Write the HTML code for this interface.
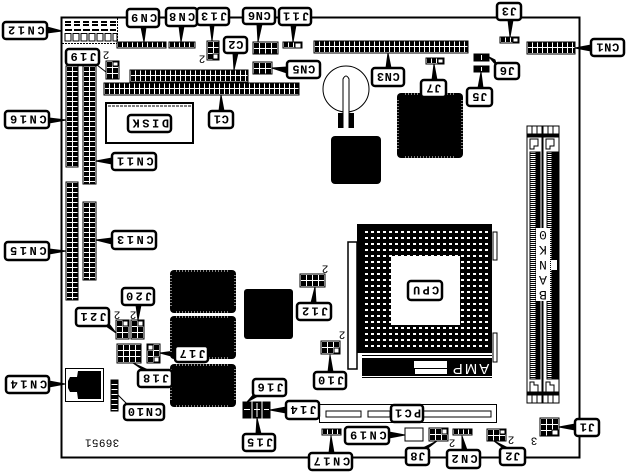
<!DOCTYPE html>
<html><head><meta charset="utf-8"><style>
html,body{margin:0;padding:0;background:#fff}
svg{display:block}
.c{shape-rendering:crispEdges}
.c rect{stroke:#000;stroke-width:1}
.l rect{fill:#fff;stroke:#000;stroke-width:2.500}
.l text{font:bold 12px "Liberation Mono",monospace;text-anchor:middle;fill:#000}
.s text{font:11px "Liberation Mono",monospace;text-anchor:middle;fill:#000}
</style></head><body>
<svg width="628" height="474" viewBox="0 0 628 474" xmlns="http://www.w3.org/2000/svg">
<defs>
<pattern id="v" width="6" height="5" patternUnits="userSpaceOnUse"><rect width="6" height="5" fill="#fff"/><rect x="1" y="1" width="5" height="4" fill="#000"/></pattern>
<pattern id="h" width="5" height="6" patternUnits="userSpaceOnUse"><rect width="5" height="6" fill="#fff"/><rect x="1" y="0" width="4" height="5" fill="#000"/></pattern>
<pattern id="g" width="6" height="6" patternUnits="userSpaceOnUse"><rect width="6" height="6" fill="#fff"/><rect x="1" y="1" width="5" height="5" fill="#000"/></pattern>
<pattern id="b" width="7" height="5" patternUnits="userSpaceOnUse"><rect width="7" height="5" fill="#000"/><rect y="4" width="7" height="1" fill="#fff"/></pattern>
<pattern id="pin" width="6" height="6" patternUnits="userSpaceOnUse"><rect x="2" y="2" width="3" height="2" fill="#fff" shape-rendering="crispEdges"/></pattern>
<pattern id="comb" width="6" height="2" patternUnits="userSpaceOnUse"><rect width="6" height="1" fill="#fff"/><rect y="1" width="6" height="1" fill="#000"/></pattern>
</defs>

<!-- board -->
<rect x="61.500" y="17.500" width="518" height="440" fill="#fff" stroke="#000" stroke-width="2"/>

<!-- CN12 block -->
<g class="c">
<path d="M62 43.500H118M117.500 18V43" stroke="#000" fill="none" stroke-width="1" stroke-dasharray="2 1"/>
<path d="M65 22H116M65 25H116" stroke="#000" stroke-width="2" stroke-dasharray="6 3"/>
<path d="M65 30H116" stroke="#000" stroke-width="2" stroke-dasharray="7 2"/>
<path d="M65 33.500H71V41H65ZM73 33.500H79V41H73ZM81 33.500H87V41H81ZM89 33.500H95V41H89ZM97 33.500H103V41H97ZM105 33.500H111V41H105ZM113 33.500H117V41H113Z" fill="#fff" stroke="#000"/>
</g>

<!-- wedges -->
<g fill="#000" stroke="#000" stroke-width="1" stroke-linejoin="round">
<polygon points="47,27 47,33 62,31"/><polygon points="141,27 146,27 144,42"/><polygon points="179,26 184,26 181,42"/>
<polygon points="210,25 214,25 212,41"/><polygon points="291,25 296,25 293,42"/><polygon points="257,24 262,24 258,42"/>
<polygon points="233,53 238,53 234,70"/><polygon points="287,67 287,73 272,68"/><polygon points="219,111 224,111 221,95"/>
<polygon points="49,118 49,123 66,120"/><polygon points="112,158 112,164 96,161"/><polygon points="112,238 112,244 96,240"/>
<polygon points="49,249 49,254 66,251"/><polygon points="93,62 97,65 106,72"/><polygon points="136,305 141,305 138,320"/>
<polygon points="103,324 107,321 116,333"/><polygon points="175,351 175,357 160,353"/><polygon points="143,370 148,370 133,363"/>
<polygon points="49,381 49,387 65,384"/><polygon points="125,402 129,406 118,395"/><polygon points="254,394 258,396 247,402"/>
<polygon points="256,434 261,434 257,418"/><polygon points="286,407 286,413 270,410"/><polygon points="329,453 334,453 331,436"/>
<polygon points="311,303 316,303 315,287"/><polygon points="328,372 333,372 330,355"/><polygon points="389,432 389,438 405,435"/>
<polygon points="423,448 428,448 437,441"/><polygon points="462,450 467,450 462,436"/><polygon points="503,448 508,448 494,441"/>
<polygon points="575,424 575,430 559,427"/><polygon points="508,20 513,20 510,37"/><polygon points="591,45 591,51 575,48"/>
<polygon points="386,68 391,68 388,53"/><polygon points="432,80 437,80 434,64"/><polygon points="495,60 497,66 489,57"/>
<polygon points="478,88 483,88 481,72"/>
</g>

<!-- connectors -->
<g class="c">
<rect transform="translate(117,42)" width="49" height="6" fill="url(#h)"/>
<rect transform="translate(169,42)" width="26" height="6" fill="url(#h)"/>
<rect transform="translate(207,41)" width="12" height="19" fill="url(#g)"/>
<rect transform="translate(253,42)" width="25" height="12" fill="url(#g)"/>
<rect transform="translate(283,42)" width="19" height="6" fill="url(#h)"/>
<rect transform="translate(106,61)" width="13" height="18" fill="url(#g)"/>
<rect transform="translate(130,70)" width="118" height="12" fill="url(#h)"/>
<rect transform="translate(104,83)" width="195" height="12" fill="url(#h)"/>
<rect transform="translate(253,62)" width="19" height="12" fill="url(#g)"/>
<rect transform="translate(66,66)" width="12" height="101" fill="url(#v)"/>
<rect transform="translate(83,66)" width="13" height="118" fill="url(#v)"/>
<rect transform="translate(66,182)" width="12" height="118" fill="url(#v)"/>
<rect transform="translate(83,202)" width="13" height="78" fill="url(#v)"/>
<rect transform="translate(116,320)" width="13" height="19" fill="url(#g)"/>
<rect transform="translate(131,320)" width="13" height="19" fill="url(#g)"/>
<rect transform="translate(117,344)" width="24" height="19" fill="url(#g)"/>
<rect transform="translate(147,344)" width="13" height="19" fill="url(#g)"/>
<rect transform="translate(111,380)" width="7" height="31" fill="url(#b)"/>
<rect x="243" y="402" width="8" height="16" fill="#000"/><rect x="253" y="402" width="8" height="16" fill="#000"/><rect x="263" y="402" width="7" height="16" fill="#000"/>
<path d="M244 409.500H250M254 409.500H260M264 409.500H269M257 403V417" stroke="#fff"/>
<rect transform="translate(300,274)" width="25" height="13" fill="url(#g)"/>
<rect transform="translate(321,341)" width="19" height="13" fill="url(#g)"/>
<rect transform="translate(322,429)" width="19" height="6" fill="url(#h)"/>
<rect x="405" y="428" width="18" height="13" fill="#fff"/>
<rect transform="translate(429,428)" width="19" height="13" fill="url(#g)"/>
<rect transform="translate(453,429)" width="19" height="6" fill="url(#h)"/>
<rect transform="translate(487,429)" width="19" height="12" fill="url(#g)"/>
<rect transform="translate(540,418)" width="19" height="18" fill="url(#g)"/>
<rect transform="translate(500,37)" width="19" height="6" fill="url(#h)"/>
<rect transform="translate(527,42)" width="48" height="12" fill="url(#h)"/>
<rect transform="translate(314,41)" width="154" height="12" fill="url(#h)"/>
<rect transform="translate(426,58)" width="18" height="6" fill="url(#h)"/>
<rect x="474" y="54" width="15" height="7" fill="#000"/><rect x="474" y="66" width="15" height="6" fill="#000"/>
<path d="M481.500 55V60M481.500 67V71" stroke="#fff"/>
<!-- pin-1 markers -->
<g fill="#fff">
<rect x="113" y="62" width="5" height="4"/><rect x="213" y="54" width="5" height="5"/><rect x="295" y="43" width="6" height="5"/>
<rect x="123" y="321" width="5" height="5"/><rect x="138" y="321" width="5" height="5"/><rect x="148" y="345" width="5" height="5"/><rect x="154" y="357" width="5" height="5"/>
<rect x="334" y="348" width="5" height="5"/><rect x="442" y="429" width="5" height="5"/><rect x="500" y="430" width="5" height="4"/><rect x="552" y="430" width="6" height="5"/>
<rect x="513" y="38" width="5" height="4"/><rect x="438" y="59" width="5" height="4"/>
</g>
</g>

<!-- disk -->
<rect x="106" y="103" width="87" height="40" fill="#fff" stroke="#000" stroke-width="2"/>
<path d="M108 106H191" stroke="#000" stroke-dasharray="3 1" stroke-width="1"/>

<!-- jack -->
<rect x="65.500" y="368.500" width="38" height="33" fill="#fff" stroke="#000"/>
<polygon points="78,371 101,371 101,399 78,399 77,392 70,392 68,388 68,381 70,377 77,377" fill="#000"/>

<!-- chips -->
<g fill="#000">
<rect x="170" y="270" width="66" height="43" rx="4"/><rect x="170" y="316" width="66" height="43" rx="4"/><rect x="170" y="364" width="66" height="43" rx="4"/>
<rect x="244" y="289" width="49" height="50" rx="3"/><rect x="331" y="136" width="50" height="48" rx="4"/><rect x="397" y="93" width="66" height="65" rx="4"/>
</g>
<g stroke="#fff" stroke-width="1" fill="none" stroke-dasharray="1 2">
<path d="M176 271H230M176 312H230M176 317H230M176 358H230M176 365H230M176 406H230"/>
<path d="M235 275V308M235 321V354M235 369V402M171 275V308M171 321V354M171 369V402"/>
<path d="M405 157H455M405 94H455M398 100V150M462 100V150"/>
</g>

<!-- battery -->
<circle cx="346" cy="89" r="23" fill="#fff" stroke="#000"/>
<path d="M343 128V79Q346 73 349 79V128" fill="#fff" stroke="#000"/>
<rect x="338" y="113" width="5" height="15" fill="#000"/><rect x="349" y="113" width="5" height="15" fill="#000"/>

<!-- CPU socket -->
<rect x="348" y="242" width="9" height="127" fill="#fff" stroke="#000" stroke-width="1.500"/>
<rect x="357" y="224" width="135" height="129" fill="#000"/>
<rect transform="translate(363,229)" width="126" height="120" fill="url(#pin)"/>
<rect x="391" y="256" width="69" height="69" fill="#fff"/>
<rect x="493" y="232" width="4" height="28" fill="#fff" stroke="#000"/><rect x="493" y="333" width="4" height="29" fill="#fff" stroke="#000"/>
<rect x="362" y="355" width="130" height="23" fill="#fff"/>
<path d="M362 355.500H492M362 377.500H492" stroke="#000"/>
<rect x="362" y="358" width="130" height="18" fill="#000"/>
<rect x="414" y="361" width="33" height="7" fill="#fff"/><rect x="415" y="369" width="32" height="5" fill="#fff"/>
<text transform="rotate(180 470 369)" x="470" y="374" font-family="Liberation Sans,sans-serif" font-size="15" letter-spacing="2" text-anchor="middle" fill="#fff">AMP</text>

<!-- DIMM -->
<g class="c">
<rect x="527" y="126" width="15" height="277" fill="#fff" stroke="#000"/>
<rect x="543" y="126" width="16" height="277" fill="#fff" stroke="#000"/>
<path d="M532 126V134M537 126V134M548 126V134M553 126V134M532 394V403M537 394V403M548 394V403M553 394V403" stroke="#000"/>
<rect x="527" y="134" width="15" height="3" fill="#000"/><rect x="543" y="134" width="16" height="3" fill="#000"/>
<rect x="527" y="392" width="15" height="3" fill="#000"/><rect x="543" y="392" width="16" height="3" fill="#000"/>
<path d="M530 139H538V146H534V149H530ZM546 139H554V146H550V149H546ZM530 382H534V385H538V392H530ZM546 382H550V385H554V392H546Z" fill="#fff" stroke="#000"/>
<rect transform="translate(530,152)" width="6" height="227" fill="url(#comb)"/>
<rect transform="translate(547,152)" width="5" height="227" fill="url(#comb)"/>
<rect x="536" y="152" width="4" height="227" fill="#000"/><rect x="552" y="152" width="6" height="227" fill="#000"/>
</g>
<rect x="536" y="228" width="14" height="73" fill="#fff"/>
<rect x="551" y="260" width="6" height="10" fill="#fff"/>
<g font-family="Liberation Mono,monospace" font-size="13" text-anchor="middle" fill="#000">
<text transform="rotate(180 543 235)" x="543" y="239">0</text>
<text transform="rotate(180 543 250)" x="543" y="254">K</text>
<text transform="rotate(180 543 265)" x="543" y="269">N</text>
<text transform="rotate(180 543 280)" x="543" y="284">A</text>
<text transform="rotate(180 543 295)" x="543" y="299">B</text>
</g>

<!-- PCI -->
<rect x="319.500" y="404.500" width="177" height="18" fill="#fff" stroke="#000"/>
<rect x="326" y="411" width="35" height="6" fill="#fff" stroke="#000"/>
<rect x="368" y="411" width="22" height="6" fill="#fff" stroke="#000"/>
<rect x="423" y="411" width="68" height="6" fill="#fff" stroke="#000"/>

<!-- labels -->
<g class="l">
<rect x="3" y="22" width="44" height="17" rx="3"/><text transform="rotate(180 25 30.500)" x="25" y="34.500" letter-spacing="2.600">CN12</text>
<rect x="127" y="9" width="32" height="18" rx="3"/><text transform="rotate(180 143 18)" x="143" y="22" letter-spacing="2.200">CN9</text>
<rect x="166" y="8" width="31" height="18" rx="3"/><text transform="rotate(180 181 17)" x="181" y="21" letter-spacing="2.200">CN8</text>
<rect x="197" y="8" width="32" height="17" rx="3"/><text transform="rotate(180 213 16.500)" x="213" y="20.500" letter-spacing="2.200">J13</text>
<rect x="243" y="8" width="32" height="16" rx="3"/><text transform="rotate(180 259 16)" x="259" y="20" letter-spacing="0.600">CN6</text>
<rect x="279" y="8" width="32" height="17" rx="3"/><text transform="rotate(180 295 16.500)" x="295" y="20.500" letter-spacing="2.200">J11</text>
<rect x="224" y="37" width="23" height="16" rx="3"/><text transform="rotate(180 235.500 45)" x="235.500" y="49" letter-spacing="0.600">C2</text>
<rect x="287" y="61" width="33" height="17" rx="3"/><text transform="rotate(180 303.500 69.500)" x="303.500" y="73.500" letter-spacing="0.600">CN5</text>
<rect x="66" y="49" width="33" height="16" rx="3"/><text transform="rotate(180 82.500 57)" x="82.500" y="61" letter-spacing="2.200">J19</text>
<rect x="5" y="111" width="44" height="17" rx="3"/><text transform="rotate(180 27 119.500)" x="27" y="123.500" letter-spacing="2.600">CN16</text>
<rect x="128" y="115" width="43" height="17" rx="3"/><text transform="rotate(180 149.500 123.500)" x="149.500" y="127.500" letter-spacing="2.600">DISK</text>
<rect x="209" y="111" width="24" height="17" rx="3"/><text transform="rotate(180 221 119.500)" x="221" y="123.500" letter-spacing="0.600">C1</text>
<rect x="112" y="153" width="44" height="17" rx="3"/><text transform="rotate(180 134 161.500)" x="134" y="165.500" letter-spacing="2.600">CN11</text>
<rect x="112" y="231" width="44" height="18" rx="3"/><text transform="rotate(180 134 240)" x="134" y="244" letter-spacing="2.600">CN13</text>
<rect x="5" y="242" width="44" height="18" rx="3"/><text transform="rotate(180 27 251)" x="27" y="255" letter-spacing="2.600">CN15</text>
<rect x="122" y="288" width="32" height="17" rx="3"/><text transform="rotate(180 138 296.500)" x="138" y="300.500" letter-spacing="2.200">J20</text>
<rect x="76" y="308" width="33" height="18" rx="3"/><text transform="rotate(180 92.500 317)" x="92.500" y="321" letter-spacing="2.200">J21</text>
<rect x="138" y="370" width="34" height="17" rx="3"/><text transform="rotate(180 155 378.500)" x="155" y="382.500" letter-spacing="2.200">J18</text>
<rect x="175" y="346" width="33" height="16" rx="3"/><text transform="rotate(180 191.500 354)" x="191.500" y="358" letter-spacing="2.200">J17</text>
<rect x="6" y="376" width="43" height="17" rx="3"/><text transform="rotate(180 27.500 384.500)" x="27.500" y="388.500" letter-spacing="2.600">CN14</text>
<rect x="124" y="404" width="40" height="16" rx="3"/><text transform="rotate(180 144 412)" x="144" y="416" letter-spacing="1.800">CN10</text>
<rect x="253" y="379" width="33" height="17" rx="3"/><text transform="rotate(180 269.500 387.500)" x="269.500" y="391.500" letter-spacing="2.200">J16</text>
<rect x="243" y="434" width="32" height="17" rx="3"/><text transform="rotate(180 259 442.500)" x="259" y="446.500" letter-spacing="2.200">J15</text>
<rect x="286" y="401" width="33" height="18" rx="3"/><text transform="rotate(180 302.500 410)" x="302.500" y="414" letter-spacing="2.200">J14</text>
<rect x="309" y="453" width="43" height="17" rx="3"/><text transform="rotate(180 330.500 461.500)" x="330.500" y="465.500" letter-spacing="2.600">CN17</text>
<rect x="297" y="303" width="34" height="17" rx="3"/><text transform="rotate(180 314 311.500)" x="314" y="315.500" letter-spacing="2.200">J12</text>
<rect x="314" y="372" width="32" height="17" rx="3"/><text transform="rotate(180 330 380.500)" x="330" y="384.500" letter-spacing="2.200">J10</text>
<rect x="345" y="427" width="44" height="17" rx="3"/><text transform="rotate(180 367 435.500)" x="367" y="439.500" letter-spacing="2.600">CN19</text>
<rect x="391" y="405" width="32" height="17" rx="3"/><text transform="rotate(180 407 413.500)" x="407" y="417.500" letter-spacing="2.200">PC1</text>
<rect x="406" y="448" width="23" height="17" rx="3"/><text transform="rotate(180 417.500 456.500)" x="417.500" y="460.500" letter-spacing="0.600">J8</text>
<rect x="447" y="450" width="33" height="18" rx="3"/><text transform="rotate(180 463.500 459)" x="463.500" y="463" letter-spacing="2.200">CN2</text>
<rect x="500" y="448" width="25" height="17" rx="3"/><text transform="rotate(180 512.500 456.500)" x="512.500" y="460.500" letter-spacing="0.600">J2</text>
<rect x="575" y="419" width="24" height="17" rx="3"/><text transform="rotate(180 587 427.500)" x="587" y="431.500" letter-spacing="0.600">J1</text>
<rect x="408" y="281" width="34" height="19" rx="3"/><text transform="rotate(180 425 290.500)" x="425" y="294.500" letter-spacing="2.200">CPU</text>
<rect x="497" y="3" width="24" height="17" rx="3"/><text transform="rotate(180 509 11.500)" x="509" y="15.500" letter-spacing="0.600">J3</text>
<rect x="591" y="39" width="33" height="17" rx="3"/><text transform="rotate(180 607.500 47.500)" x="607.500" y="51.500" letter-spacing="0.600">CN1</text>
<rect x="372" y="68" width="32" height="18" rx="3"/><text transform="rotate(180 388 77)" x="388" y="81" letter-spacing="0.600">CN3</text>
<rect x="421" y="80" width="25" height="17" rx="3"/><text transform="rotate(180 433.500 88.500)" x="433.500" y="92.500" letter-spacing="0.600">J7</text>
<rect x="495" y="63" width="24" height="16" rx="3"/><text transform="rotate(180 507 71)" x="507" y="75" letter-spacing="0.600">J6</text>
<rect x="467" y="88" width="25" height="18" rx="3"/><text transform="rotate(180 479.500 97)" x="479.500" y="101" letter-spacing="0.600">J5</text>
</g>

<!-- small numerals -->
<g class="s">
<text transform="rotate(180 106 55)" x="106" y="58.500">2</text>
<text transform="rotate(180 202 59)" x="202" y="62.500">2</text>
<text transform="rotate(180 117 315)" x="117" y="318.500">2</text>
<text transform="rotate(180 133 315)" x="133" y="318.500">2</text>
<text transform="rotate(180 325 269)" x="325" y="272.500">2</text>
<text transform="rotate(180 342 335)" x="342" y="338.500">2</text>
<text transform="rotate(180 452 443)" x="452" y="446.500">2</text>
<text transform="rotate(180 511 440)" x="511" y="443.500">2</text>
<text transform="rotate(180 534 441)" x="534" y="444.500">3</text>
<text transform="rotate(180 102 443)" x="102" y="446.500" letter-spacing="0.300">36951</text>
</g>
</svg>
</body></html>
